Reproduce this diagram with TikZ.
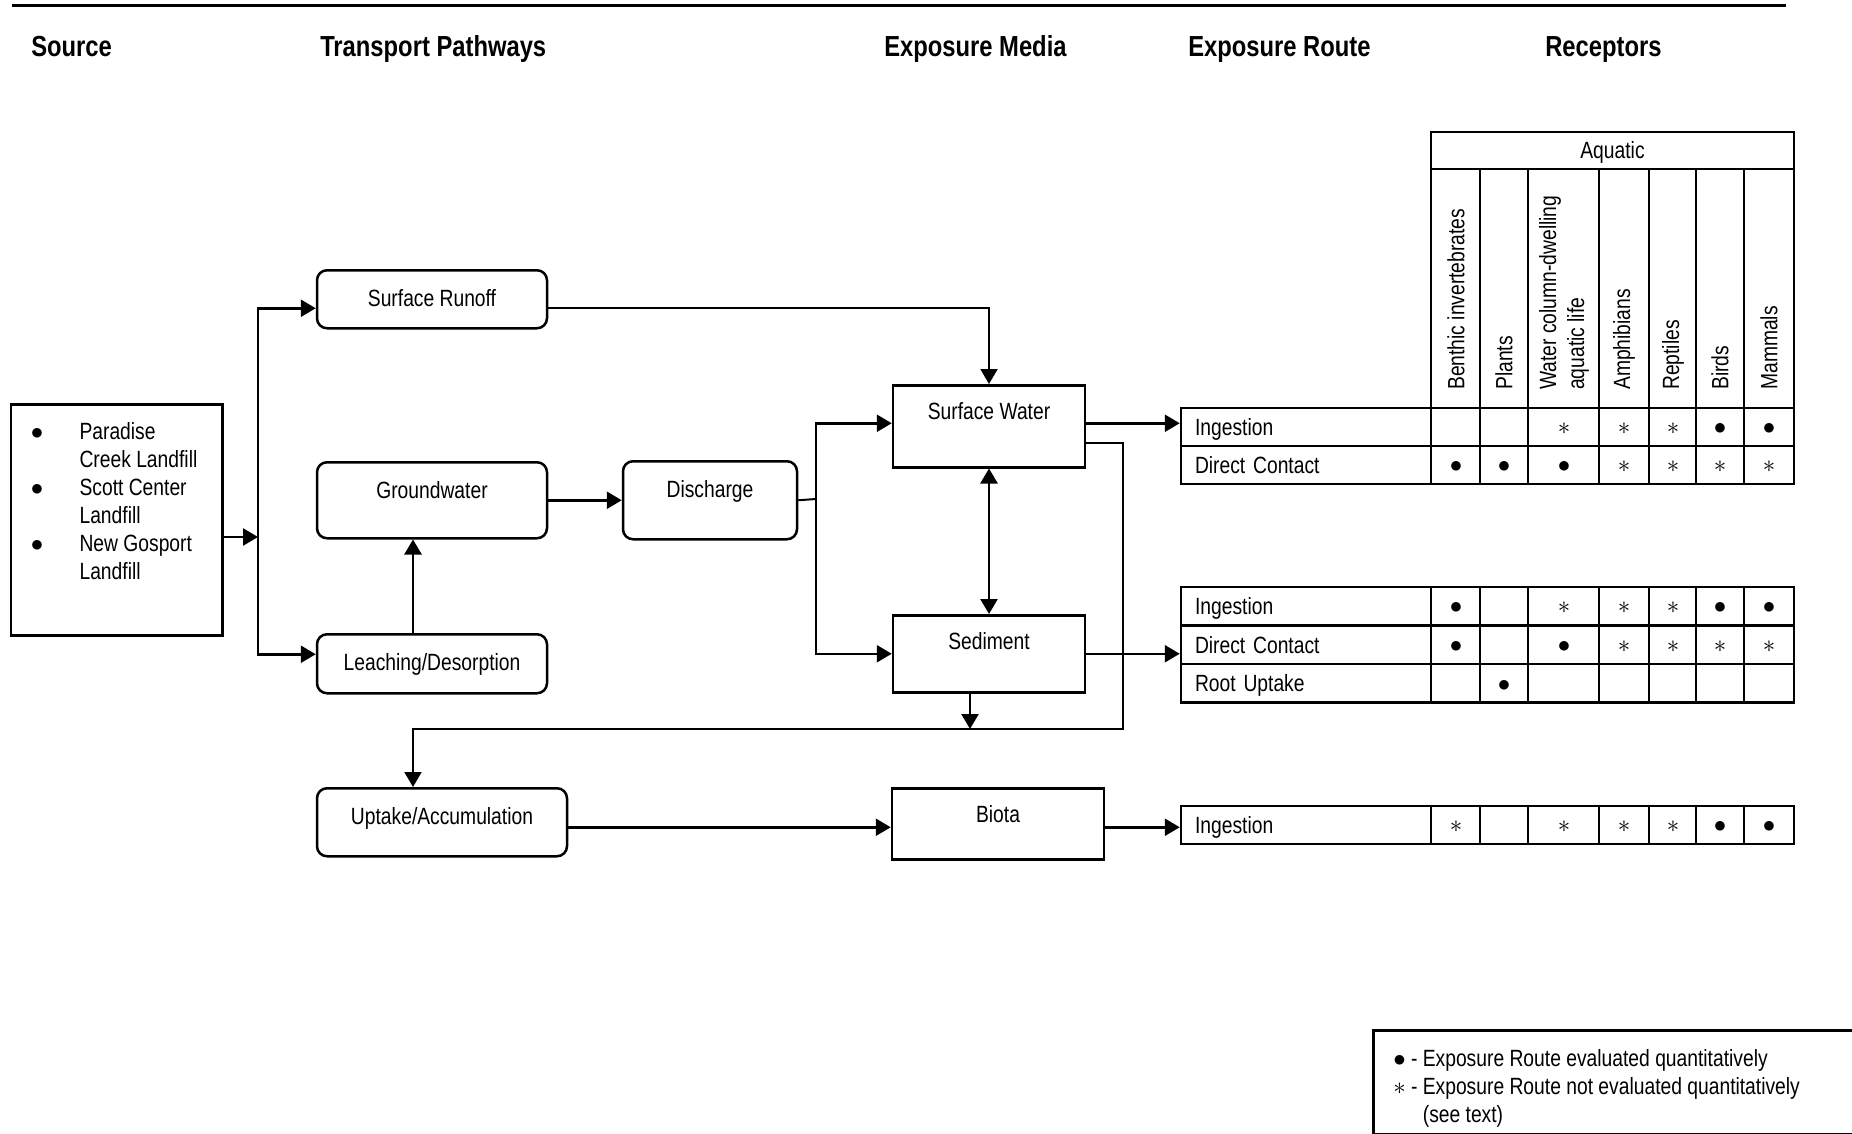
\documentclass[tikz,border=0pt]{standalone}
\usepackage{fontspec}
\setmainfont{Liberation Sans}[FakeStretch=0.82]
\usetikzlibrary{arrows.meta,positioning}
\newcommand{\qd}{$\bullet$}
\newcommand{\qa}{$\ast$}

\begin{document}
\begin{tikzpicture}[x=1pt,y=-1pt,line width=2.5pt,
  every node/.style={font=\fontsize{23.5}{28}\selectfont},
  head/.style={anchor=base west,inner sep=0pt,font=\fontsize{29}{34}\selectfont\bfseries},
  pathbox/.style={draw,rounded corners=10pt,anchor=north,inner ysep=0pt,text height=36.5pt,text depth=#1},
  mediabox/.style={draw,anchor=north,inner ysep=0pt,text height=34pt,text depth=#1},
  routecell/.style={draw,minimum height=#1,inner xsep=14pt,text width=222pt,text height=17pt,text depth=0pt},
  routecell/.default=38pt,
  colhead/.style={rotate=90,anchor=west,inner sep=0pt,align=left},
  sym/.style={inner sep=0pt},
  arr/.style={arrows={-Triangle[length=15pt,width=17pt]}},
  twoway/.style={arrows={Triangle[length=15pt,width=17pt]-Triangle[length=15pt,width=17pt]}},
  thinline/.style={line width=2pt}]
  \useasboundingbox (0,0) rectangle (1852,1134);
  \draw[line width=3pt] (12,6) -- (1786,6);
  % Column titles
  \node[head] (hsrc) at (30,57) {Source};
  \node[head] (htp) at (319,57) {Transport Pathways};
  \node[head] (hem) at (883,57) {Exposure Media};
  \node[head] (her) at (1187,57) {Exposure Route};
  \node[head] (hrc) at (1544,57) {Receptors};
  % Source
  \node[draw,anchor=north west,inner xsep=20pt,inner ysep=0pt,text height=35pt,text depth=196pt] (src) at (9.5,403)
    {\begin{tabular}[t]{@{}p{48.8pt}@{}p{122.7pt}@{}}
      \qd & Paradise\\ & Creek Landfill\\
      \qd & Scott Center\\ & Landfill\\
      \qd & New Gosport\\ & Landfill
    \end{tabular}};
  % Transport pathways
  \node[pathbox=21.5pt,minimum width=230pt] (runoff) at (432,269) {Surface Runoff};
  \node[pathbox=39.5pt,minimum width=230pt] (gw) at (432,461) {Groundwater};
  \node[pathbox=22.5pt,minimum width=230pt] (leach) at (432,633) {Leaching/Desorption};
  \node[pathbox=41.5pt,minimum width=174pt] (dis) at (710,460) {Discharge};
  \node[pathbox=31.5pt,minimum width=250pt] (upt) at (442,787) {Uptake/Accumulation};
  % Exposure media
  \node[mediabox=48pt,minimum width=192pt] (sw) at (989,384) {Surface Water};
  \node[mediabox=43pt,minimum width=192pt] (sed) at (989,614) {Sediment};
  \node[mediabox=37pt,minimum width=212pt] (bio) at (998,787) {Biota};
  % Receptor header
  \node[draw,minimum width=363pt,minimum height=37pt,inner sep=0pt,text height=17pt,text depth=0pt] (aq) at (1612.5,150.5) {Aquatic};
  \foreach \x in {1431,1480,1528,1599,1649,1696,1744,1794}
    \draw (\x,169) -- (\x,408);
  \node[colhead] (c1) at (1456,391) {Benthic invertebrates};
  \node[colhead] (c2) at (1504,391) {Plants};
  \node[colhead] (c3) at (1564,391) {Water column-dwelling\\aquatic life};
  \node[colhead] (c4) at (1624,391) {Amphibians};
  \node[colhead] (c5) at (1673,391) {Reptiles};
  \node[colhead] (c6) at (1720,391) {Birds};
  \node[colhead] (c7) at (1769,391) {Mammals};
  % Surface water routes
  \node[routecell] (swi) at (1306,427) {Ingestion};
  \node[routecell] (swd) at (1306,465) {Direct Contact};
  \draw (1431,408) rectangle (1794,484) (1431,446) -- (1794,446);
  \foreach \x in {1480,1528,1599,1649,1696,1744}
    \draw (\x,408) -- (\x,484);
  \foreach \x/\s in {1564/\qa,1624/\qa,1673/\qa,1720/\qd,1769/\qd}
    \node[sym] (swi\x) at (\x,429) {\s};
  \foreach \x/\s in {1456/\qd,1504/\qd,1564/\qd,1624/\qa,1673/\qa,1720/\qa,1769/\qa}
    \node[sym] (swd\x) at (\x,467) {\s};
  % Sediment routes
  \node[routecell=38.5pt] (sdi) at (1306,606.25) {Ingestion};
  \node[routecell=38.5pt] (sdd) at (1306,644.75) {Direct Contact};
  \node[routecell=38.5pt] (sdr) at (1306,683.25) {Root Uptake};
  \draw (1431,587) rectangle (1794,702.5) (1431,625.5) -- (1794,625.5) (1431,664) -- (1794,664);
  \foreach \x in {1480,1528,1599,1649,1696,1744}
    \draw (\x,587) -- (\x,702.5);
  \foreach \x/\s in {1456/\qd,1564/\qa,1624/\qa,1673/\qa,1720/\qd,1769/\qd}
    \node[sym] (sdi\x) at (\x,608) {\s};
  \foreach \x/\s in {1456/\qd,1564/\qd,1624/\qa,1673/\qa,1720/\qa,1769/\qa}
    \node[sym] (sdd\x) at (\x,647) {\s};
  \node[sym] (sdr1504) at (1504,686) {\qd};
  % Biota routes
  \node[routecell] (bti) at (1306,825) {Ingestion};
  \draw (1431,806) rectangle (1794,844);
  \foreach \x in {1480,1528,1599,1649,1696,1744}
    \draw (\x,806) -- (\x,844);
  \foreach \x/\s in {1456/\qa,1564/\qa,1624/\qa,1673/\qa,1720/\qd,1769/\qd}
    \node[sym] (bti\x) at (\x,827) {\s};
  % Legend
  \node[draw,anchor=north west,inner xsep=20pt,inner ysep=0pt,text height=36pt,text depth=68pt] (legend) at (1372,1029)
    {\makebox[480pt][l]{\begin{tabular}[t]{@{}l@{ }l@{}}
      \qd & - Exposure Route evaluated quantitatively\\
      \qa & - Exposure Route not evaluated quantitatively\\
          & \hphantom{- }(see text)
    \end{tabular}}};
  % Arrows
  \coordinate (jn) at (258,537);
  \draw[arr] (src.east |- jn) -- (jn);
  \draw[arr] (jn) |- ([yshift=-9pt]runoff.west);
  \draw[arr] (jn) |- ([yshift=9.5pt]leach.west);
  \draw[arr] ([xshift=-19pt]leach.north) -- ([xshift=-19pt]gw.south);
  \draw[arr] (gw) -- (dis);
  \coordinate (dj) at (816,499);
  \draw[thinline] (dis.east) -- (dj);
  \draw[arr] (dj) |- ([yshift=3pt]sw.west);
  \draw[arr] (dj) |- (sed.west);
  \draw[arr,thinline] ([yshift=-9pt]runoff.east) -| (sw.north);
  \draw[twoway] (sw) -- (sed);
  \coordinate (swo) at ([yshift=3pt]sw.east);
  \draw[arr] (swo) -- (swo -| swi.west);
  \coordinate (swl) at ([yshift=-17pt]sw.east);
  \coordinate (lp) at (1123,729);
  \draw[arr,thinline] (swl) -| (lp) -| ([xshift=-29pt]upt.north);
  \coordinate (sdo) at ([xshift=-19pt]sed.south);
  \draw[arr] (sdo) -- (sdo |- lp);
  \draw[arr] (sed.east) -- (sed.east -| sdd.west);
  \coordinate (upo) at ([yshift=-5pt]upt.east);
  \draw[arr] (upo) -- (upo -| bio.west);
  \coordinate (bto) at ([yshift=-3.5pt]bio.east);
  \draw[arr] (bto) -- (bto -| bti.west);
\end{tikzpicture}
\end{document}
